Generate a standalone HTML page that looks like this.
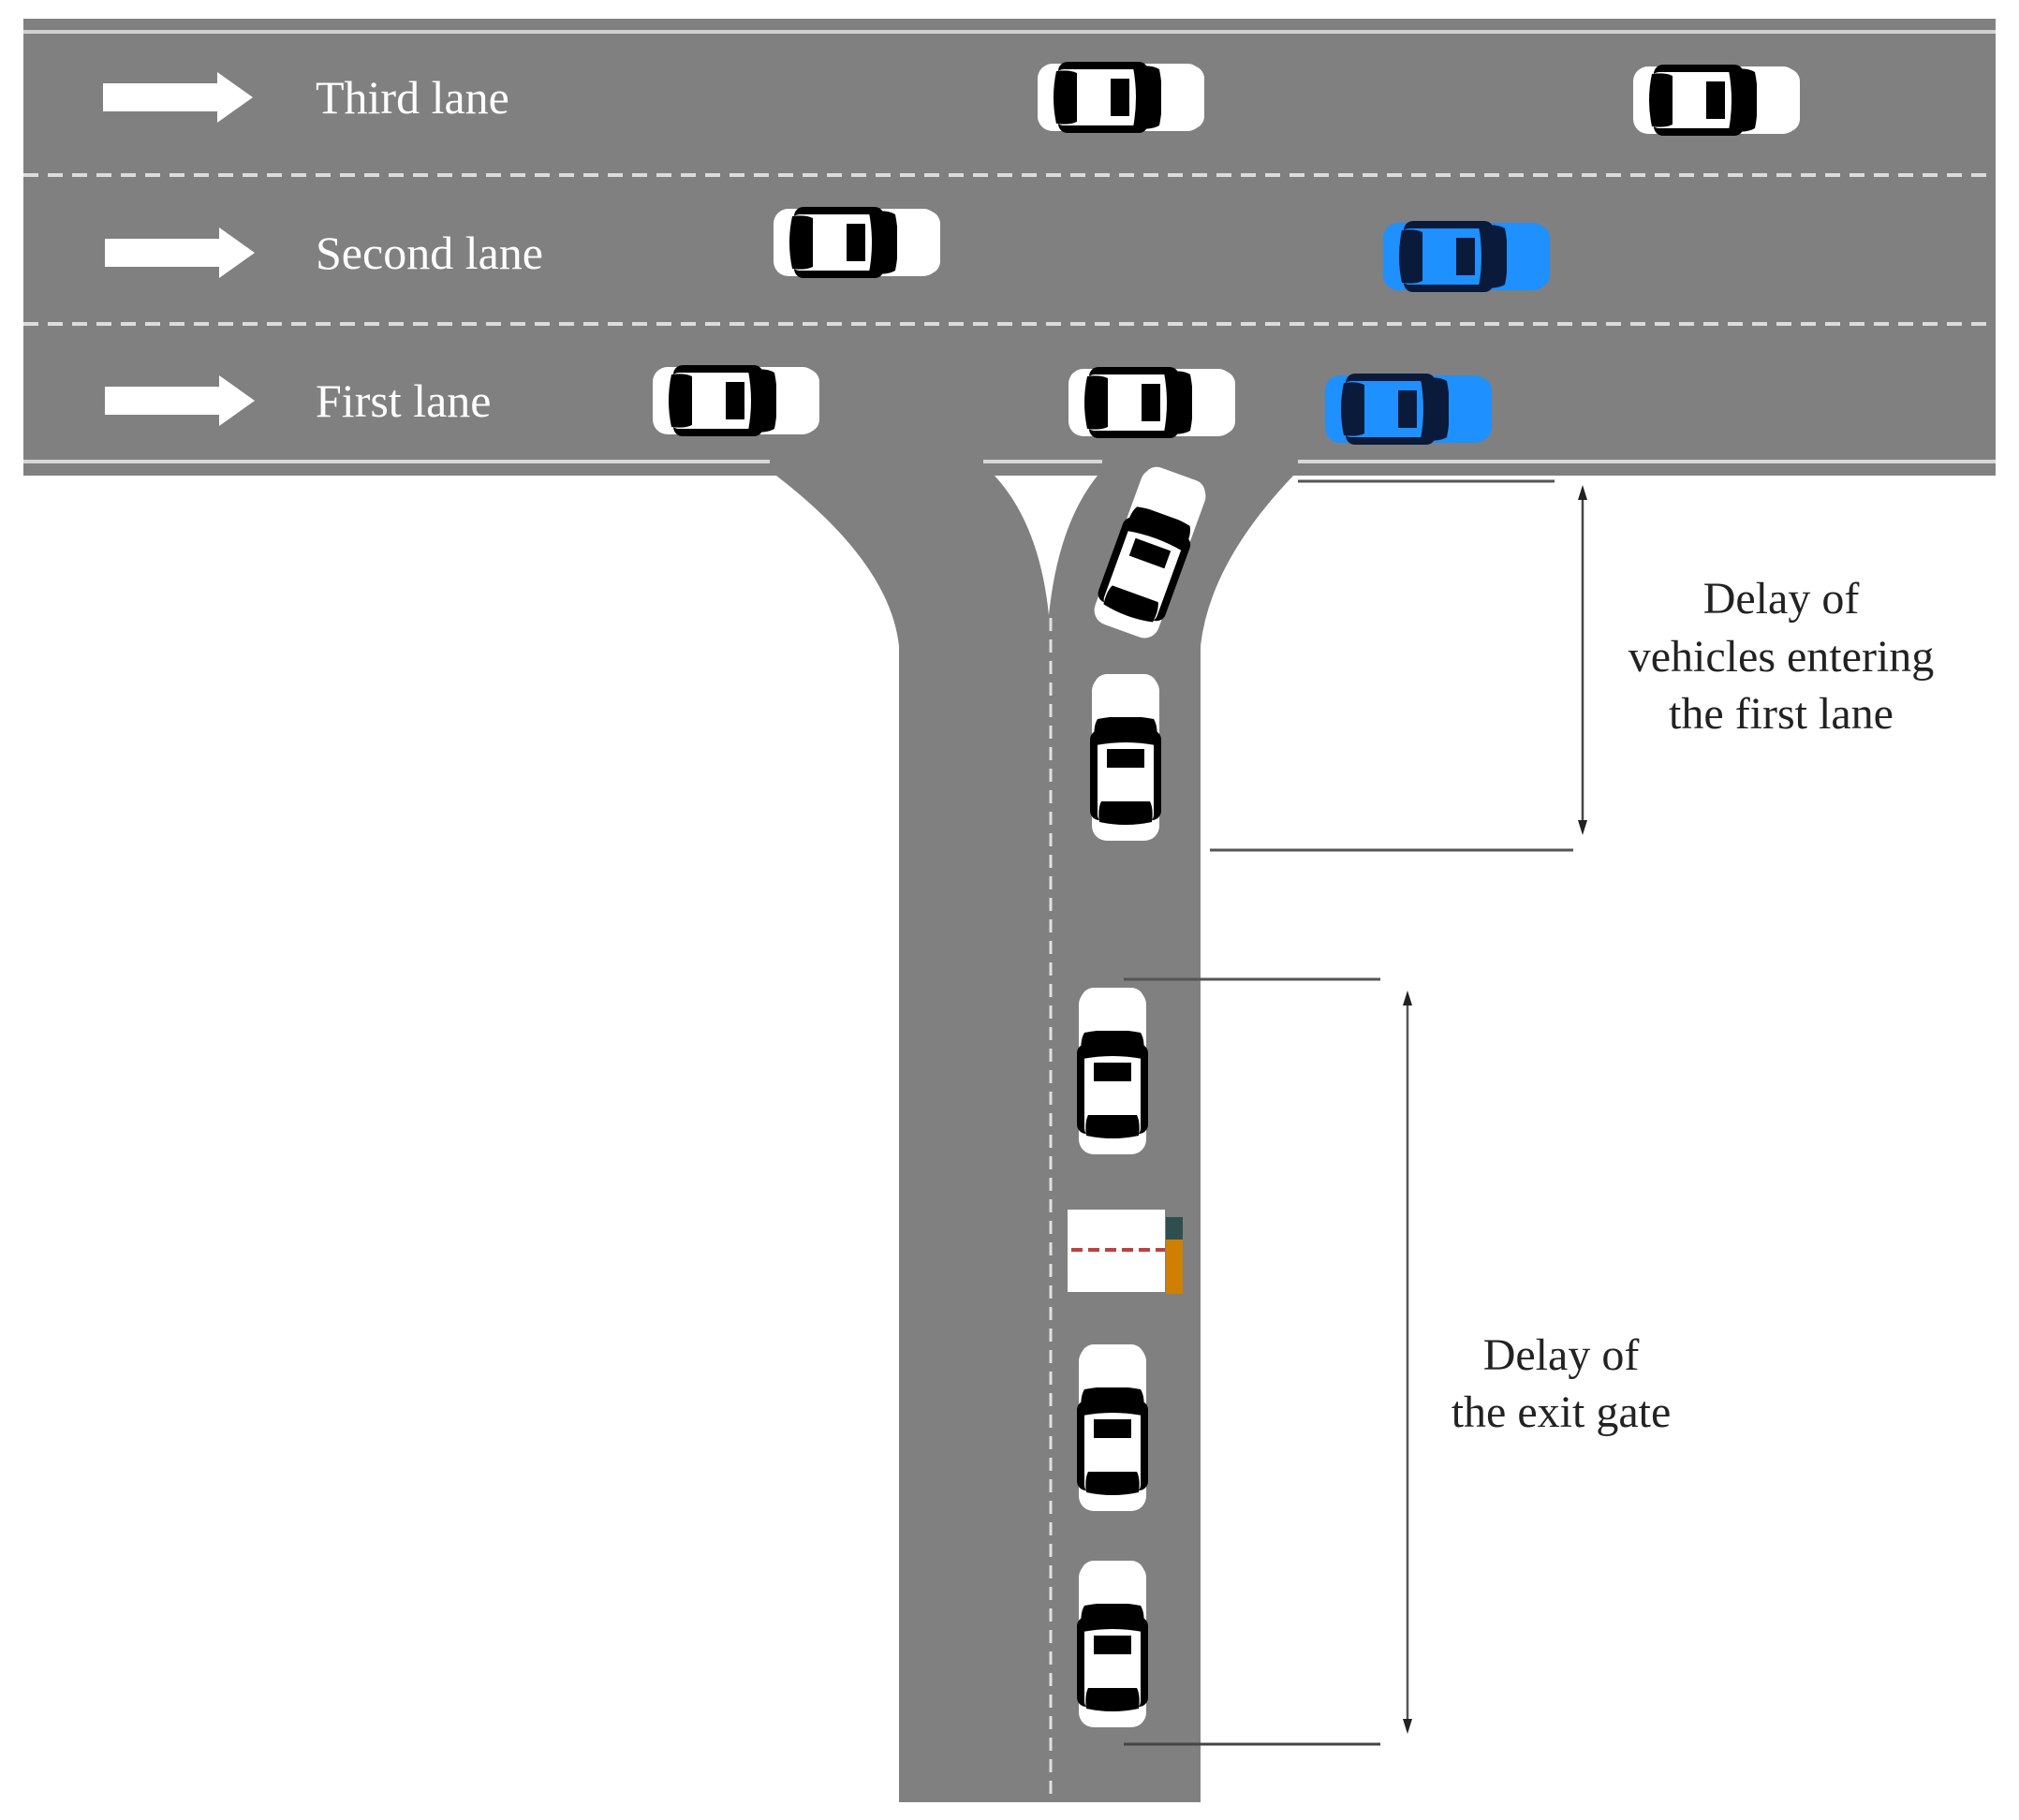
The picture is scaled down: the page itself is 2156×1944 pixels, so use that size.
<!DOCTYPE html>
<html><head><meta charset="utf-8"><style>
html,body{margin:0;padding:0;background:#fff;}
svg{display:block;}
text{font-family:"Liberation Serif",serif;}
</style></head><body>
<svg width="2156" height="1944" viewBox="0 0 2156 1944" xmlns="http://www.w3.org/2000/svg">
<defs>
<g id="car">
  <rect x="2" y="2" width="176" height="72" rx="16" fill="#fff"/>
  <rect x="24" y="0" width="96" height="76" rx="10" fill="#000"/>
  <rect x="20" y="8" width="110" height="60" rx="10" fill="#fff"/>
  <path d="M22,10 Q36,8 44,12 L44,64 Q36,68 22,66 Q16,38 22,10Z" fill="#000"/>
  <rect x="80" y="18" width="20" height="40" fill="#000"/>
  <path d="M104,6 Q122,2 132,8 Q138,38 132,68 Q122,74 104,70 Q110,38 104,6Z" fill="#000"/>
  <rect x="134" y="4" width="46" height="68" rx="14" fill="#fff"/>
</g>
<g id="bcar">
  <rect x="2" y="2" width="176" height="72" rx="16" fill="#1e90ff"/>
  <rect x="24" y="0" width="96" height="76" rx="10" fill="#0a1a3a"/>
  <rect x="20" y="8" width="110" height="60" rx="10" fill="#1e90ff"/>
  <path d="M22,10 Q36,8 44,12 L44,64 Q36,68 22,66 Q16,38 22,10Z" fill="#0a1a3a"/>
  <rect x="80" y="18" width="20" height="40" fill="#0a1a3a"/>
  <path d="M104,6 Q122,2 132,8 Q138,38 132,68 Q122,74 104,70 Q110,38 104,6Z" fill="#0a1a3a"/>
  <rect x="134" y="4" width="46" height="68" rx="14" fill="#1e90ff"/>
</g>
<g id="arrow">
  <rect x="0" y="-15" width="125" height="30" fill="#fff"/>
  <polygon points="122,-27 160,0 122,27" fill="#fff"/>
</g>
</defs>

<!-- main road -->
<rect x="25" y="20" width="2106" height="488" fill="#808080"/>
<line x1="25" y1="34" x2="2131" y2="34" stroke="#d0d0d0" stroke-width="4"/>
<line x1="25" y1="187" x2="2131" y2="187" stroke="#dcdcdc" stroke-width="4" stroke-dasharray="16 10"/>
<line x1="25" y1="346" x2="2131" y2="346" stroke="#dcdcdc" stroke-width="4" stroke-dasharray="16 10"/>

<!-- vertical road + flare -->
<path d="M825,505 Q950,600 960,690 L960,1925 L1282,1925 L1282,690 Q1292,600 1384,505 Z" fill="#808080"/>
<!-- bottom edge lines -->
<line x1="25" y1="493" x2="822" y2="493" stroke="#d8d8d8" stroke-width="4"/>
<line x1="1050" y1="493" x2="1177" y2="493" stroke="#d8d8d8" stroke-width="4"/>
<line x1="1386" y1="493" x2="2131" y2="493" stroke="#d8d8d8" stroke-width="4"/>
<!-- island -->
<path d="M1062,508 L1172,508 Q1130,560 1120,657 Q1110,560 1062,508Z" fill="#fff"/>
<line x1="1122" y1="660" x2="1122" y2="1925" stroke="#e0e0e0" stroke-width="3" stroke-dasharray="14 9"/>

<!-- arrows and labels -->
<use href="#arrow" x="110" y="104"/>
<use href="#arrow" x="112" y="270"/>
<use href="#arrow" x="112" y="428"/>
<text x="337" y="121" font-size="50" fill="#fff">Third lane</text>
<text x="337" y="287" font-size="50" fill="#fff">Second lane</text>
<text x="337" y="445" font-size="50" fill="#fff">First lane</text>

<!-- horizontal cars -->
<use href="#car" x="1106" y="66"/>
<use href="#car" x="1742" y="69"/>
<use href="#car" x="824" y="221"/>
<use href="#bcar" x="1475" y="236"/>
<use href="#car" x="695" y="390"/>
<use href="#car" x="1139" y="392"/>
<use href="#bcar" x="1413" y="399"/>

<!-- vertical cars -->
<use href="#car" transform="translate(1228,591) rotate(-70) translate(-90,-38)"/>
<use href="#car" transform="translate(1164,900) rotate(-90)"/>
<use href="#car" transform="translate(1150,1235) rotate(-90)"/>
<use href="#car" transform="translate(1150,1616) rotate(-90)"/>
<use href="#car" transform="translate(1150,1847) rotate(-90)"/>

<!-- gate -->
<rect x="1140" y="1292" width="104" height="88" fill="#fff"/>
<line x1="1144" y1="1335" x2="1244" y2="1335" stroke="#c04040" stroke-width="4" stroke-dasharray="12 6"/>
<rect x="1245" y="1300" width="18" height="24" fill="#2f4f4f"/>
<rect x="1245" y="1324" width="18" height="58" fill="#d08000"/>

<!-- dimension 1 -->
<line x1="1386" y1="514" x2="1660" y2="514" stroke="#555" stroke-width="3"/>
<line x1="1292" y1="908" x2="1680" y2="908" stroke="#555" stroke-width="3"/>
<line x1="1690" y1="530" x2="1690" y2="880" stroke="#444" stroke-width="2.5"/>
<polygon points="1690,518 1685,534 1695,534" fill="#222"/>
<polygon points="1690,892 1685,876 1695,876" fill="#222"/>
<text font-size="48" fill="#222" text-anchor="middle"><tspan x="1902" y="655">Delay of</tspan><tspan x="1902" y="717">vehicles entering</tspan><tspan x="1902" y="778">the first lane</tspan></text>

<!-- dimension 2 -->
<line x1="1200" y1="1046" x2="1474" y2="1046" stroke="#555" stroke-width="3"/>
<line x1="1200" y1="1863" x2="1474" y2="1863" stroke="#444" stroke-width="3"/>
<line x1="1503" y1="1070" x2="1503" y2="1840" stroke="#555" stroke-width="2.5"/>
<polygon points="1503,1058 1498,1074 1508,1074" fill="#222"/>
<polygon points="1503,1852 1498,1836 1508,1836" fill="#222"/>
<text font-size="48" fill="#222" text-anchor="middle"><tspan x="1667" y="1463">Delay of</tspan><tspan x="1667" y="1524">the exit gate</tspan></text>
</svg>
</body></html>
